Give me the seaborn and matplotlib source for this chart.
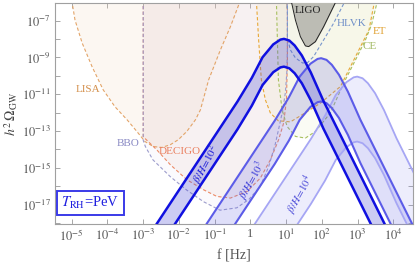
import numpy as np
import matplotlib
matplotlib.use("Agg")
import matplotlib.pyplot as plt
import seaborn as sns

sns.set_theme(style="ticks")
plt.rcParams['font.family'] = ['Liberation Serif', 'DejaVu Serif']
plt.rcParams['mathtext.fontset'] = 'stix'

# detector sensitivity curves, log10 f [Hz] and log10 h^2 Omega
lisa_logf = [-5.0, -4.91, -4.71, -4.43, -4.12, -3.79, -3.45, -3.17, -2.95, -2.72, -2.48, -2.24, -2.02, -1.78, -1.54, -1.40, -1.17, -0.84, -0.56, -0.28]
lisa_logom = [-5.9, -6.96, -8.21, -9.51, -10.76, -11.68, -12.39, -13.04, -13.57, -13.84, -13.89, -13.74, -13.47, -13.02, -12.39, -11.85, -10.22, -8.59, -7.33, -5.9]

decigo_logf = [-3.0, -3.0, -2.62, -2.24, -1.78, -1.31, -0.94, -0.56, -0.09, 0.28, 0.56, 0.79, 0.93, 1.01, 1.036, 1.036]
decigo_logom = [-5.9, -13.31, -14.02, -14.83, -15.64, -16.19, -16.55, -16.64, -16.28, -15.55, -14.56, -13.47, -12.57, -11.30, -9.13, -5.9]

bbo_logf = [-3.0, -3.0, -2.94, -2.73, -2.24, -1.78, -1.31, -0.85, -0.38, -0.04, 0.27, 0.51, 0.69, 0.79, 0.90, 0.98, 1.02, 1.036, 1.036]
bbo_logom = [-5.9, -13.5, -13.84, -14.56, -15.48, -16.21, -16.84, -17.30, -17.17, -16.71, -16.03, -14.94, -13.76, -12.9, -11.92, -10.9, -9.8, -8.6, -5.9]

ligo_logf = [1.14, 1.26, 1.40, 1.54, 1.63, 1.82, 2.05, 2.41]
ligo_logom = [-5.9, -6.96, -7.87, -8.37, -8.41, -8.14, -7.33, -5.9]

hlvk_logf = [1.036, 1.036, 1.12, 1.26, 1.46, 1.60, 1.77, 2.05, 2.33, 2.66]
hlvk_logom = [-5.9, -7.94, -8.59, -9.02, -9.30, -9.28, -8.95, -8.05, -7.14, -5.9]

et_logf = [0.167, 0.231, 0.307, 0.419, 0.56, 0.78, 1.12, 1.40, 1.96, 2.52, 2.85, 3.13, 3.32, 3.48]
et_logom = [-5.9, -8.05, -10.22, -11.30, -12.02, -12.44, -12.50, -12.17, -11.48, -10.58, -9.31, -8.23, -7.50, -5.9]

ce_logf = [0.728, 0.756, 0.784, 0.888, 1.028, 1.26, 1.54, 1.82, 2.24, 2.61, 2.99, 3.22, 3.39, 3.56]
ce_logom = [-5.9, -8.05, -10.22, -11.85, -12.75, -13.29, -13.38, -13.02, -12.01, -10.40, -8.95, -8.05, -7.23, -5.9]

# signal bands, upper and lower edge for each beta/H
b1_logf = [-2.86, -0.36, 0.04, 0.34, 0.64, 0.84, 0.94, 1.09, 1.24, 1.44, 1.69, 2.04, 2.54, 4.14]
b1_hi = [-18.74, -11.39, -10.11, -8.99, -8.29, -8.03, -7.99, -8.08, -8.35, -8.89, -9.81, -11.34, -13.29, -19.54]
b1_lo = [-20.25, -12.90, -11.62, -10.50, -9.80, -9.54, -9.50, -9.59, -9.86, -10.40, -11.32, -12.85, -14.80, -21.05]

b2_logf = [-1.82, 0.68, 1.08, 1.38, 1.68, 1.88, 1.98, 2.13, 2.28, 2.48, 2.73, 3.08, 3.58, 5.18]
b2_hi = [-19.79, -12.44, -11.16, -10.04, -9.34, -9.08, -9.04, -9.13, -9.40, -9.94, -10.86, -12.39, -14.34, -20.59]
b2_lo = [-22.14, -14.79, -13.51, -12.39, -11.69, -11.43, -11.39, -11.48, -11.75, -12.29, -13.21, -14.74, -16.69, -22.94]

b3_logf = [-0.81, 1.69, 2.09, 2.39, 2.69, 2.89, 2.99, 3.14, 3.29, 3.49, 3.74, 4.09, 4.59, 6.19]
b3_hi = [-20.79, -13.44, -12.16, -11.04, -10.34, -10.08, -10.04, -10.13, -10.40, -10.94, -11.86, -13.39, -15.34, -21.59]
b3_lo = [-24.32, -16.97, -15.69, -14.57, -13.87, -13.61, -13.57, -13.66, -13.93, -14.47, -15.39, -16.92, -18.87, -25.12]

band_labels = [r'$\beta/H\!=\!10^2$', r'$\beta/H\!=\!10^3$', r'$\beta/H\!=\!10^4$']

p = lambda v: 10.0 ** np.array(v)

fig = plt.figure(figsize=(4.15, 2.65), dpi=100)
ax = fig.add_axes([0.1325, 0.1547, 0.8625, 0.834])
ax.set_xscale('log')
ax.set_yscale('log')
ax.set_facecolor('white')

dash = (0, (3.0, 2.0))

# detector regions
detectors = [
    (lisa_logf, lisa_logom, '#e3a468', '#f0d4b8', 0.18),
    (decigo_logf, decigo_logom, '#ec8a66', '#e4b0a8', 0.12),
    (bbo_logf, bbo_logom, '#9c9ccc', '#ccc6e4', 0.07),
    (et_logf, et_logom, '#e8a838', '#e8e0a0', 0.12),
    (ce_logf, ce_logom, '#a8c060', '#d8e0a8', 0.12),
    (hlvk_logf, hlvk_logom, '#7896cc', '#d8e0ee', 0.08),
]
for lf, lo, lc, fc, a in detectors:
    ax.fill_between(p(lf), p(lo), 1e-5, color=fc, alpha=a, lw=0, zorder=1)
for lf, lo, lc, fc, a in detectors:
    sns.lineplot(x=p(lf), y=p(lo), ax=ax, sort=False, estimator=None,
                 color=lc, lw=0.8, linestyle=dash, zorder=2)

ax.fill_between(p(ligo_logf), p(ligo_logom), 1e-5, color='#bcbcb4', lw=0, zorder=3)
sns.lineplot(x=p(ligo_logf), y=p(ligo_logom), ax=ax, sort=False, estimator=None,
             color='#222222', lw=0.7, zorder=3)

# bands
bands = [
    (b3_logf, b3_hi, b3_lo, '#a6a6f4', '#9090f0', 0.16, 1.3),
    (b2_logf, b2_hi, b2_lo, '#5c5ce8', '#7070e8', 0.22, 1.5),
    (b1_logf, b1_hi, b1_lo, '#1010e0', '#4a4ad4', 0.28, 1.8),
]
for lf, hi, lo, lc, fc, a, w in bands:
    ax.fill_between(p(lf), p(lo), p(hi), color=fc, alpha=a, lw=0, zorder=4)
    sns.lineplot(x=p(lf), y=p(hi), ax=ax, sort=False, estimator=None, color=lc, lw=w, zorder=5)
    sns.lineplot(x=p(lf), y=p(lo), ax=ax, sort=False, estimator=None, color=lc, lw=w, zorder=5)

# labels
ax.text(10**-4.54, 10**-10.76, 'LISA', color='#d4904c', fontsize=8, ha='center', va='center')
ax.text(10**-3.42, 10**-13.69, 'BBO', color='#8a8ac4', fontsize=8, ha='center', va='center')
ax.text(10**-1.99, 10**-14.13, 'DECIGO', color='#ea8060', fontsize=8, ha='center', va='center')
ax.text(10**1.62, 10**-6.47, 'LIGO', color='#222222', fontsize=8, ha='center', va='center', zorder=6)
ax.text(10**2.82, 10**-7.18, 'HLVK', color='#6f8fc8', fontsize=8, ha='center', va='center')
ax.text(10**3.62, 10**-7.61, 'ET', color='#e0a030', fontsize=8, ha='center', va='center')
ax.text(10**3.33, 10**-8.43, 'CE', color='#a0b860', fontsize=8, ha='center', va='center')

ax.text(10**-1.23, 10**-14.83, band_labels[0], color='#1a1ad8', fontsize=8, rotation=62,
        ha='center', va='center', zorder=6)
ax.text(10**0.06, 10**-15.70, band_labels[1], color='#3a3ad8', fontsize=8, rotation=61,
        ha='center', va='center', zorder=6)
ax.text(10**1.40, 10**-16.46, band_labels[2], color='#4a4ad8', fontsize=8, rotation=61,
        ha='center', va='center', zorder=6)

ax.text(0.098, 0.095, r'$T_{\rm RH}$=PeV', transform=ax.transAxes, color='#2020e0', fontsize=10.5,
        ha='center', va='center', zorder=7,
        bbox=dict(boxstyle='square,pad=0.3', fc='white', ec='#3a3ae8', lw=1.4))

ax.set_xlim(10**-5.47, 10**4.55)
ax.set_ylim(10**-18.05, 10**-6.04)

xt = [10.0 ** k for k in range(-5, 5)]
xl = [r'$10^{%d}$' % k if k != 0 else '1' for k in range(-5, 5)]
ax.set_xticks(xt)
ax.set_xticklabels(xl)
yt = [10.0 ** k for k in range(-18, -6)]
yl = [r'$10^{%d}$' % k if k % 2 else '' for k in range(-18, -6)]
ax.set_yticks(yt)
ax.set_yticklabels(yl)
ax.minorticks_off()
ax.tick_params(which='major', direction='in', top=True, right=True, length=3.5, width=0.6,
               color='#999999', labelcolor='#555555', labelsize=9, pad=3)
for s in ax.spines.values():
    s.set_color('#a0a0a0')
    s.set_linewidth(0.8)

ax.set_xlabel('f [Hz]', color='#555555', fontsize=10, labelpad=4)
ax.set_ylabel(r'$h^2\,\Omega_{\rm GW}$', color='#444444', fontsize=10, labelpad=1)

fig.savefig('out.png', dpi=100)
